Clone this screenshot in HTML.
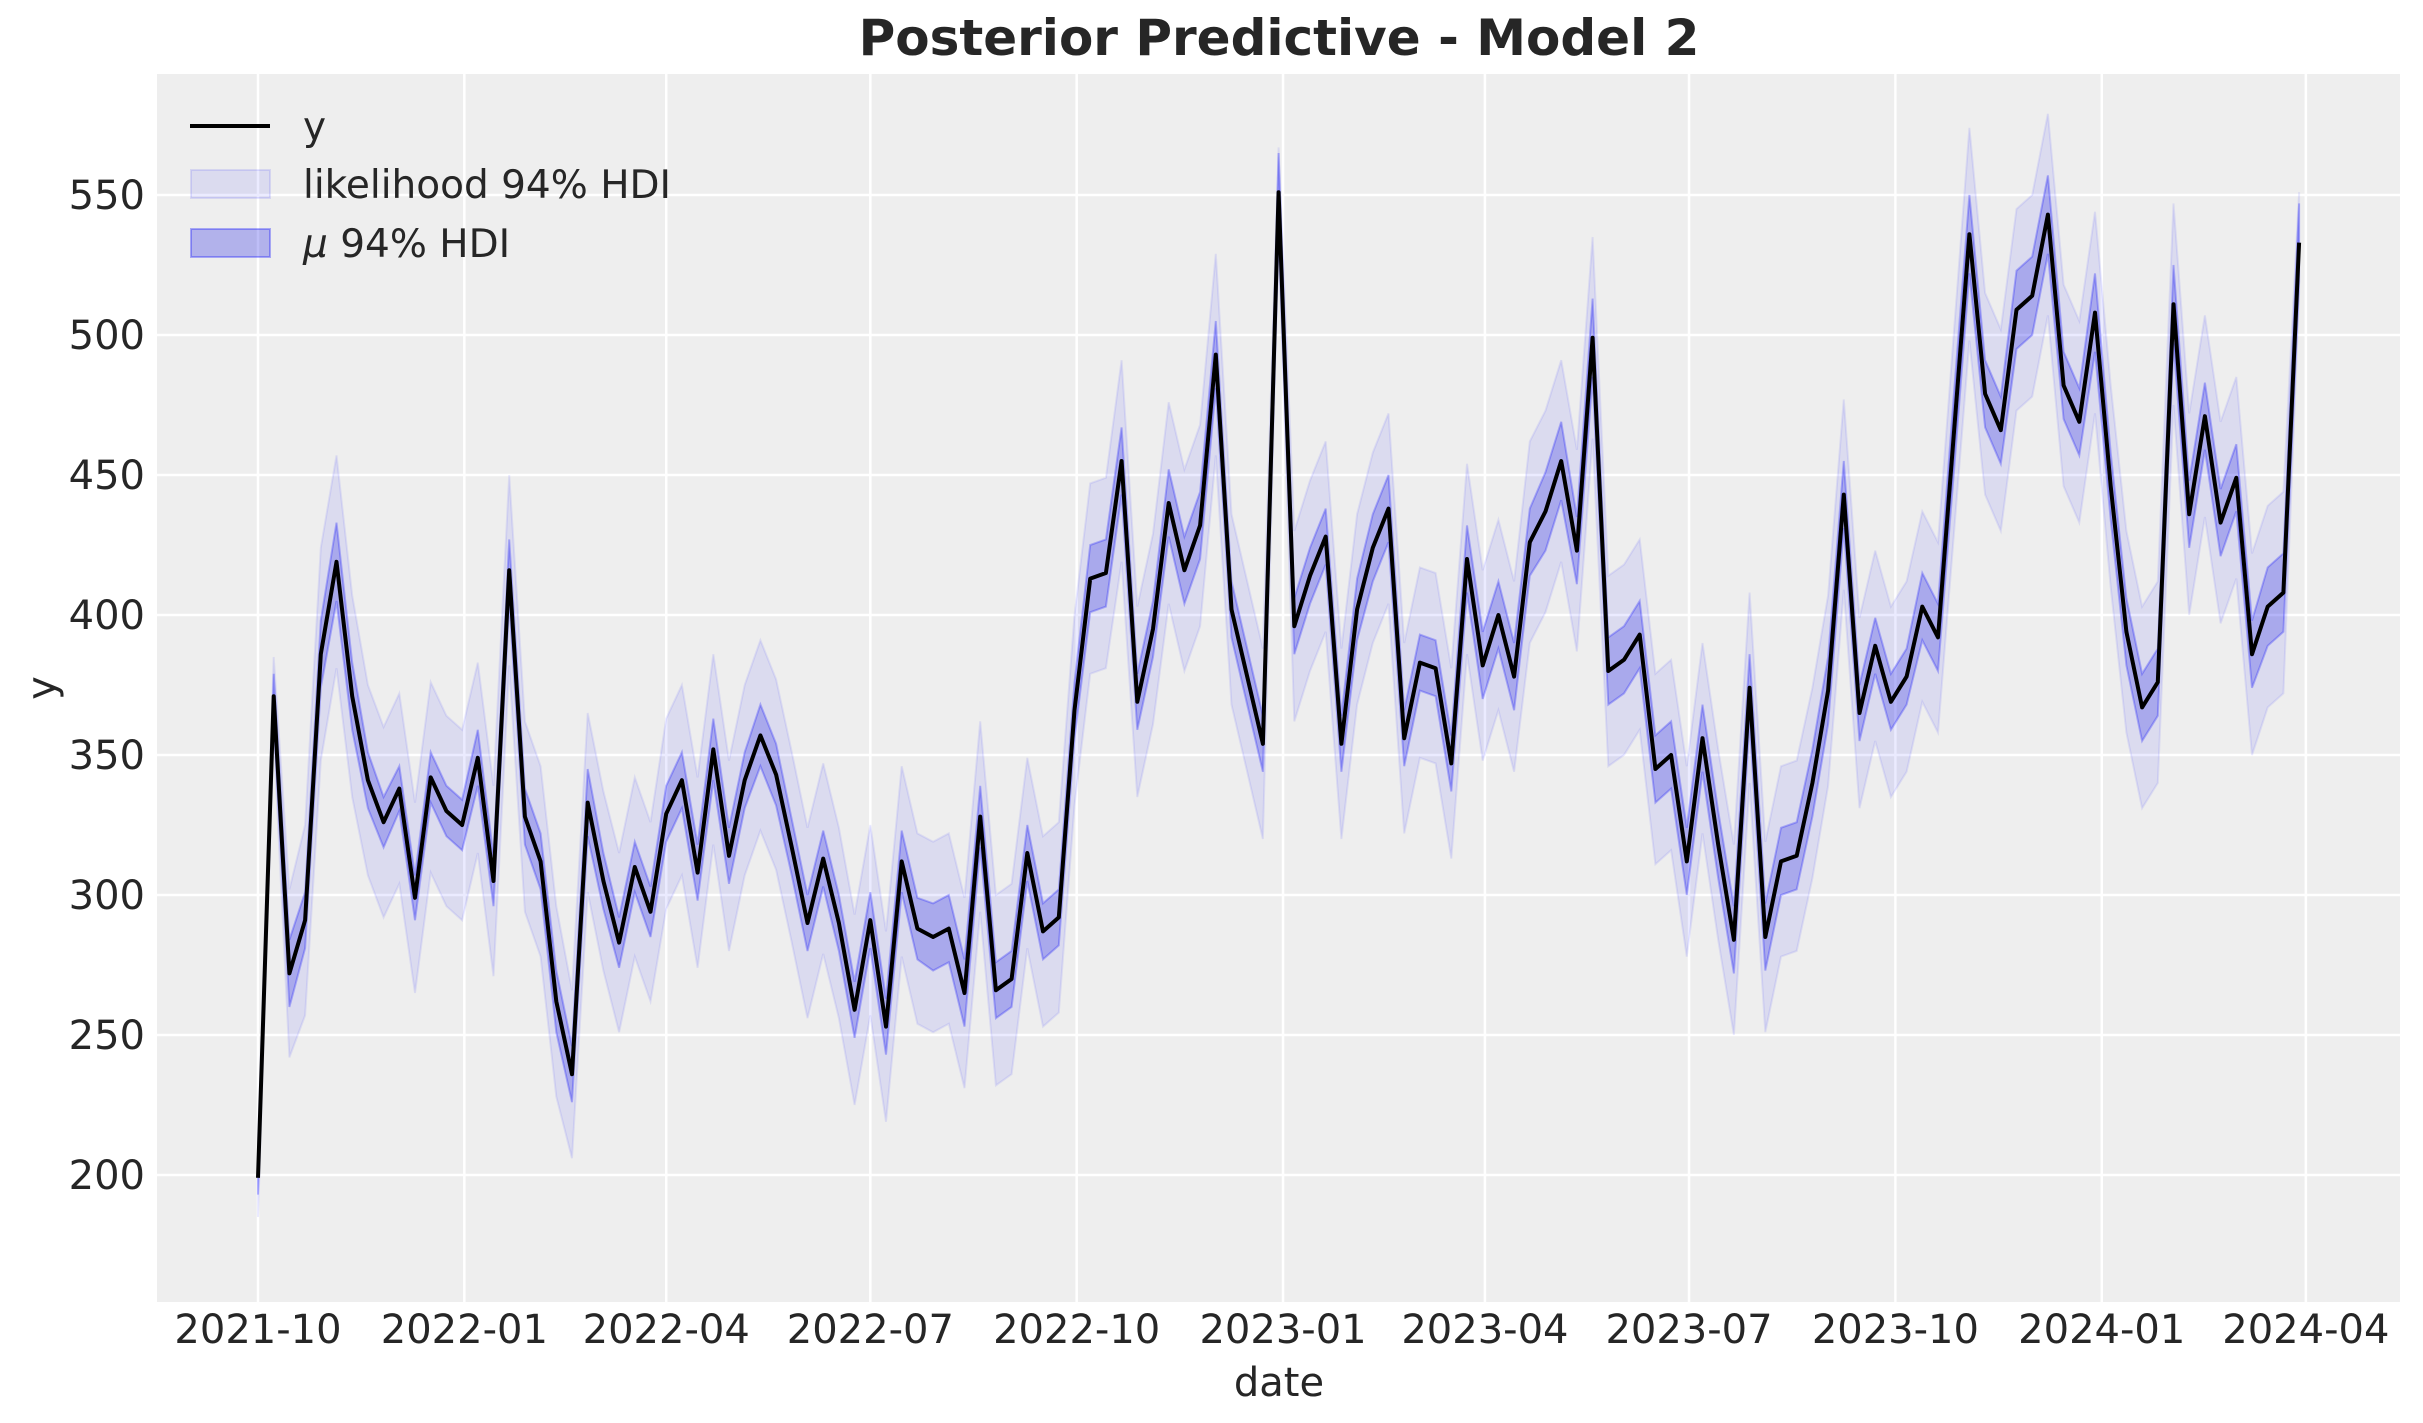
<!DOCTYPE html>
<html><head><meta charset="utf-8"><style>
html,body{margin:0;padding:0;background:#fff;}
svg{display:block;font-family:"DejaVu Sans","Liberation Sans",sans-serif;}
</style></head><body>
<svg id="chart" width="2423" height="1423" viewBox="0 0 2423 1423">
<text x="1279" y="55" text-anchor="middle" font-size="50" font-weight="bold" fill="#262626">Posterior Predictive - Model 2</text>
<rect x="157" y="74" width="2243" height="1228" fill="#eeeeee"/>
<g id="grid"></g>
<g id="bands"></g>
<g id="series"></g>
<g id="axes"></g>
<text x="1279" y="1396" text-anchor="middle" font-size="40" fill="#262626">date</text>
<text transform="translate(55,688) rotate(-90)" text-anchor="middle" font-size="40" fill="#262626">y</text>
<g>
<line x1="190" y1="126" x2="270" y2="126" stroke="#000" stroke-width="4"/>
<text x="303" y="140" font-size="39" fill="#262626">y</text>
<rect x="191" y="170" width="79" height="28" fill="rgba(0,0,255,0.08)" stroke="rgba(0,0,255,0.1)" stroke-width="2"/>
<text x="303" y="198" font-size="39" fill="#262626">likelihood 94% HDI</text>
<rect x="191" y="229" width="79" height="28" fill="rgba(40,40,230,0.3)" stroke="rgba(0,0,255,0.3)" stroke-width="2"/>
<text x="303" y="257" font-size="39" fill="#262626"><tspan font-style="italic">μ</tspan> 94% HDI</text>
</g>
</svg>
<script>
const yValues=[199,371,272,291,386,419,371,341,326,338,
299,342,330,325,349,305,416,328,312,262,
236,333,305,283,310,294,329,341,308,352,
314,341,357,343,317,290,313,290,259,291,
253,312,288,285,288,265,328,266,270,315,
287,292,366,413,415,455,369,395,440,416,
432,493,402,378,354,551,396,414,428,354,
402,424,438,356,383,381,347,420,382,400,
378,426,437,455,423,499,380,384,393,345,
350,312,356,318,284,374,285,312,314,340,
373,443,365,389,369,378,403,392,464,536,
479,466,509,514,543,482,469,508,446,394,
367,376,511,436,471,433,449,386,403,408,533];
const muHalf=[6,8,12,10,12,14,12,10,9,8,
8,9,9,9,10,9,11,10,10,11,
10,12,10,9,9,9,10,10,10,11,
10,10,11,11,10,10,10,10,10,10,
10,11,11,12,12,12,11,10,10,10,
10,10,10,12,12,12,10,10,12,12,
12,12,10,10,10,14,10,10,10,10,
11,12,12,10,10,10,10,12,12,12,
12,12,14,14,12,14,12,12,12,12,
12,12,12,12,12,12,12,12,12,12,
12,12,10,10,10,10,12,12,14,14,
12,12,14,14,14,12,12,14,12,12,
12,12,14,12,12,12,12,12,14,14,14];
const likHalf=[14,14,30,34,38,38,36,34,34,34,
34,34,34,34,34,34,34,34,34,34,
30,32,32,32,32,32,34,34,34,34,
34,34,34,34,34,34,34,34,34,34,
34,34,34,34,34,34,34,34,34,34,
34,34,34,34,34,36,34,34,36,36,
36,36,34,34,34,16,34,34,34,34,
34,34,34,34,34,34,34,34,34,34,
34,36,36,36,36,36,34,34,34,34,
34,34,34,34,34,34,34,34,34,34,
34,34,34,34,34,34,34,34,36,38,
36,36,36,36,36,36,36,36,36,36,
36,36,36,36,36,36,36,36,36,36,18];
const yTicks=[200,250,300,350,400,450,500,550];
const xTickLabels=["2021-10","2022-01","2022-04","2022-07","2022-10","2023-01","2023-04","2023-07","2023-10","2024-01","2024-04"];
const xTickDates=["2021-10-01","2022-01-01","2022-04-01","2022-07-01","2022-10-01","2023-01-01","2023-04-01","2023-07-01","2023-10-01","2024-01-01","2024-04-01"];
const startDate="2021-10-01";

const NS="http://www.w3.org/2000/svg";
const X0=Date.parse("2021-10-01"), PXDAY=2.243, XPX0=258;
function xDay(d){return XPX0+d*PXDAY;}
function xDate(s){return xDay((Date.parse(s)-X0)/86400000);}
function yScale(v){return 195+(550-v)*2.8;}
const startOff=(Date.parse(startDate)-X0)/86400000;
function xIdx(i){return xDay(startOff+i*7);}
function mk(tag,attrs,parent){const e=document.createElementNS(NS,tag);for(const k in attrs)e.setAttribute(k,attrs[k]);parent.appendChild(e);return e;}

const grid=document.getElementById('grid'), axes=document.getElementById('axes');
yTicks.forEach(t=>{
  const l=mk('line',{x1:157,x2:2400,y1:yScale(t),y2:yScale(t),stroke:'#fff','stroke-width':2.5},grid);
  
  
  const tx=mk('text',{x:145,y:yScale(t)+14,'text-anchor':'end','font-size':40,fill:'#262626'},axes);
  tx.textContent=t;
  
  
});
xTickDates.forEach((d,i)=>{
  const x=xDate(d);
  const l=mk('line',{x1:x,x2:x,y1:74,y2:1302,stroke:'#fff','stroke-width':2.5},grid);
  
  
  const tx=mk('text',{x:x,y:1343,'text-anchor':'middle','font-size':40,fill:'#262626'},axes);
  tx.textContent=xTickLabels[i];
  
  
});

function bandPath(half){
  let up=[],lo=[];
  yValues.forEach((v,i)=>{up.push(xIdx(i).toFixed(1)+','+yScale(v+half[i]).toFixed(1));lo.push(xIdx(i).toFixed(1)+','+yScale(v-half[i]).toFixed(1));});
  return 'M'+up.join(' L')+' L'+lo.reverse().join(' L')+' Z';
}
const bands=document.getElementById('bands');
const lik=mk('path',{d:bandPath(likHalf),fill:'rgba(0,0,255,0.08)',stroke:'rgba(0,0,255,0.08)','stroke-width':2},bands);


const mu=mk('path',{d:bandPath(muHalf),fill:'rgba(40,40,230,0.28)',stroke:'rgba(0,0,255,0.25)','stroke-width':2},bands);



const pts=yValues.map((v,i)=>xIdx(i).toFixed(1)+','+yScale(v).toFixed(1)).join(' ');
const line=mk('polyline',{points:pts,fill:'none',stroke:'#000','stroke-width':4,'stroke-linejoin':'round'},document.getElementById('series'));


</script>
</body></html>
